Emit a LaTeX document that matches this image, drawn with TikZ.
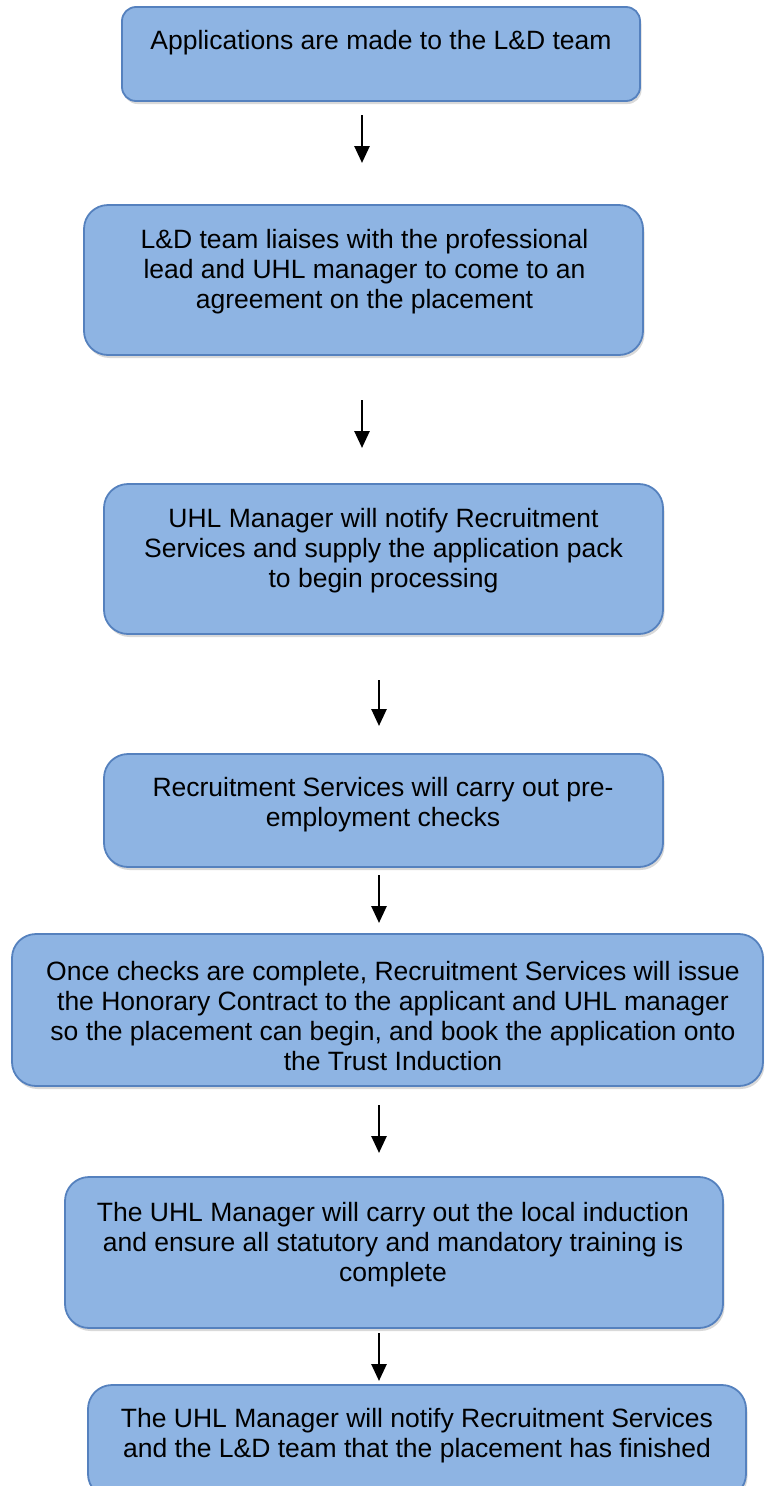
\documentclass[tikz,border=0pt]{standalone}
\usepackage{fontspec}
\setmainfont{Liberation Sans}
\usetikzlibrary{arrows.meta,shadows}

\definecolor{boxfill}{HTML}{8EB4E3}
\definecolor{boxline}{HTML}{5581BE}

\tikzset{
	stepbox/.style={draw=boxline, fill=boxfill, line width=1.8pt, rounded corners=24pt,
		drop shadow={shadow xshift=1.5pt, shadow yshift=-3pt, opacity=0.3, fill=black!50}},
	steptext/.style={align=center, inner sep=0pt, font=\fontsize{26.5pt}{30pt}\selectfont},
	steparrow/.style={line width=2.7pt, -{Triangle[length=17pt,width=15pt]}}
}

\begin{document}
\begin{tikzpicture}[x=1pt, y=-1pt]
			%%%%% START %%%%%
			
			\useasboundingbox (0, 0) rectangle (764, 1486);
			\clip (0, 0) rectangle (764, 1486);
			
			% boxes
			\node[stepbox, rounded corners=14pt, minimum width=518pt, minimum height=94pt] (box1) at (381, 54) {};
			\node[stepbox, minimum width=559pt, minimum height=150pt] (box2) at (363.5, 280) {};
			\node[stepbox, minimum width=559pt, minimum height=150pt] (box3) at (383.5, 559) {};
			\node[stepbox, minimum width=559pt, minimum height=113pt] (box4) at (383.5, 810.5) {};
			\node[stepbox, minimum width=751pt, minimum height=152pt] (box5) at (387.5, 1010) {};
			\node[stepbox, minimum width=658pt, minimum height=151pt] (box6) at (394, 1252.5) {};
			\node[stepbox, minimum width=658pt, minimum height=113pt] (box7) at (417, 1441.5) {};
			
			% texts
			\node[steptext] (text1) at (381, 43) {Applications are made to the L\&D team};
			\node[steptext] (text2) at (364.5, 271.5) {L\&D team liaises with the professional\\lead and UHL manager to come to an\\agreement on the placement};
			\node[steptext] (text3) at (383.5, 550.5) {UHL Manager will notify Recruitment\\Services and supply the application pack\\to begin processing};
			\node[steptext] (text4) at (383, 804.5) {Recruitment Services will carry out pre-\\employment checks};
			\node[steptext] (text5) at (393, 1016.5) {Once checks are complete, Recruitment Services will issue\\the Honorary Contract to the applicant and UHL manager\\so the placement can begin, and book the application onto\\the Trust Induction};
			\node[steptext] (text6) at (393, 1244.5) {The UHL Manager will carry out the local induction\\and ensure all statutory and mandatory training is\\complete};
			\node[steptext] (text7) at (417, 1435.5) {The UHL Manager will notify Recruitment Services\\and the L\&D team that the placement has finished};
			
			% arrows between the boxes
			\coordinate (arr1a) at (362, 115);
			\coordinate (arr1b) at (362, 163);
			\coordinate (arr2a) at (362, 400);
			\coordinate (arr2b) at (362, 448);
			\coordinate (arr3a) at (379, 680);
			\coordinate (arr3b) at (379, 726);
			\coordinate (arr4a) at (379, 875);
			\coordinate (arr4b) at (379, 923);
			\coordinate (arr5a) at (379, 1105);
			\coordinate (arr5b) at (379, 1153);
			\coordinate (arr6a) at (379, 1333);
			\coordinate (arr6b) at (379, 1381);
			
			\draw[steparrow] (arr1a) -- (arr1b);
			\draw[steparrow] (arr2a) -- (arr2b);
			\draw[steparrow] (arr3a) -- (arr3b);
			\draw[steparrow] (arr4a) -- (arr4b);
			\draw[steparrow] (arr5a) -- (arr5b);
			\draw[steparrow] (arr6a) -- (arr6b);
			
			%%%%% END %%%%%
\end{tikzpicture}
\end{document}
